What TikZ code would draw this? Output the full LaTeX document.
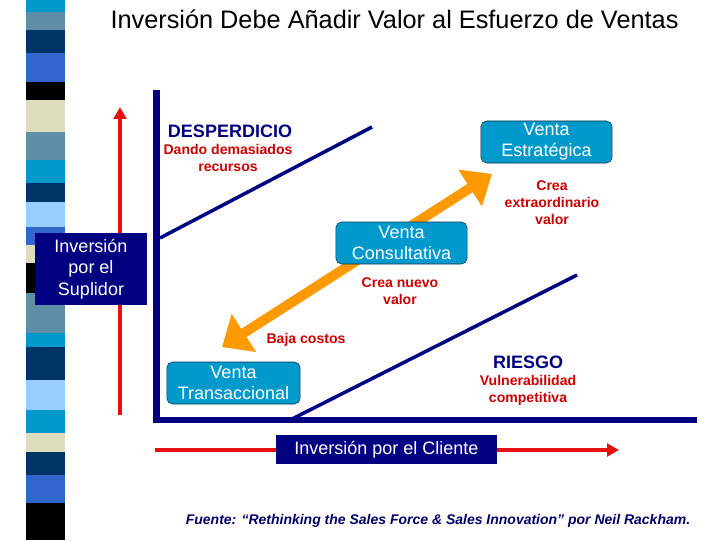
\documentclass[tikz,border=0pt]{standalone}
\usepackage{fontspec}
\setmainfont{Liberation Sans}
\usepackage{xcolor}
\usetikzlibrary{arrows.meta,positioning}
\definecolor{navy}{RGB}{0,0,128}
\definecolor{deepnavy}{RGB}{0,0,102}
\definecolor{redarrow}{RGB}{232,16,16}
\definecolor{redtext}{RGB}{204,0,0}
\definecolor{orangearrow}{RGB}{255,153,0}
\definecolor{cyanbox}{RGB}{0,153,204}
\definecolor{boxedge}{RGB}{20,50,80}
\definecolor{stcyan}{RGB}{0,153,204}
\definecolor{ststeel}{RGB}{95,142,168}
\definecolor{stnavy}{RGB}{0,51,102}
\definecolor{stroyal}{RGB}{51,102,204}
\definecolor{stbeige}{RGB}{221,221,187}
\definecolor{stlight}{RGB}{153,204,255}

\begin{document}
\begin{tikzpicture}[x=0.025cm,y=-0.025cm,
  salebox/.style={draw=boxedge,rounded corners=4pt,fill=cyanbox,text=white,align=center,
    minimum width=3.28cm,minimum height=1.05cm,inner sep=0pt,font=\fontsize{12.8}{15}\selectfont},
  investbox/.style={fill=navy,text=white,align=center,inner sep=0pt,font=\fontsize{12.8}{15.3}\selectfont},
  zonetitle/.style={text=navy,font=\fontsize{12.8}{15}\selectfont\bfseries},
  note/.style={text=redtext,align=center,font=\fontsize{10}{12}\selectfont\bfseries}]
\useasboundingbox (0,0) rectangle (720,540);
% striped band on the left
\foreach \ya/\yb/\c in {0/12/stcyan,12/30/ststeel,30/53/stnavy,53/82/stroyal,82/100/black,
  100/132/stbeige,132/160/ststeel,160/183/stcyan,183/202/stnavy,202/227/stlight,227/245/stroyal,
  245/263/stbeige,263/293/black,293/333/ststeel,333/347/stcyan,347/380/stnavy,380/410/stlight,
  410/433/stcyan,433/452/stbeige,452/475/stnavy,475/503/stroyal,503/540/black}
  \fill[\c] (26,\ya) rectangle (65,\yb);
\node (title) at (394.5,19) {\fontsize{18}{21}\selectfont Inversión Debe Añadir Valor al Esfuerzo de Ventas};

% axes
\coordinate (top) at (156.5,90);
\coordinate (corner) at (156.5,420);
\coordinate (right) at (697,420);
\draw[navy,line width=4.6pt,line join=miter] (top) -- (corner) -- (right);

% investment arrows
\coordinate (supstart) at (120,415);
\coordinate (supend) at (120,107);
\draw[redarrow,line width=2.8pt,-{Triangle[length=8.5pt,width=9pt]}] (supstart) -- (supend);
\node[investbox,minimum width=2.8cm,minimum height=1.8cm] (sup) at (91,269) {Inversión\\por el\\Suplidor};
\coordinate (clistart) at (155,450);
\coordinate (cliend) at (619,450);
\draw[redarrow,line width=2.8pt,-{Triangle[length=8.5pt,width=9pt]}] (clistart) -- (cliend);
\node[investbox,minimum width=5.53cm,minimum height=0.73cm] (cli) at (386.5,449.5) {Inversión por el Cliente};

% zone borders
\coordinate (wastea) at (160,238);
\coordinate (wasteb) at (372,127);
\draw[navy,line width=2.5pt] (wastea) -- (wasteb);
\coordinate (riska) at (292,419);
\coordinate (riskb) at (577,275);
\draw[navy,line width=2.5pt] (riska) -- (riskb);

% sales types
\coordinate (lowtip) at (222,347);
\coordinate (hightip) at (492,174);
\draw[orangearrow,line width=7pt,{Triangle[length=18.5pt,width=31pt]}-{Triangle[length=18.5pt,width=30pt]}] (lowtip) -- (hightip);
\node[salebox] (est) at (546.5,142) {Venta\\Estratégica};
\node[salebox] (con) at (401.5,243) {Venta\\Consultativa};
\node[salebox,minimum width=3.33cm] (tra) at (233.5,383) {Venta\\Transaccional};

% labels
\node[zonetitle] (waste) at (230,131) {DESPERDICIO};
\node[note] (wastenote) at (228,158) {Dando demasiados\\recursos};
\node[note] (estnote) at (552,203) {Crea\\extraordinario\\valor};
\node[note] (connote) at (400,291.5) {Crea nuevo\\valor};
\node[note] (tranote) at (306,340) {Baja costos};
\node[zonetitle] (risk) at (528,362) {RIESGO};
\node[note] (risknote) at (528,390.5) {Vulnerabilidad\\competitiva};

\node[text=deepnavy,font=\fontsize{9.95}{12}\selectfont\bfseries\itshape] (source) at (438,521)
  {Fuente: “Rethinking the Sales Force \& Sales Innovation” por Neil Rackham.};
\end{tikzpicture}
\end{document}
